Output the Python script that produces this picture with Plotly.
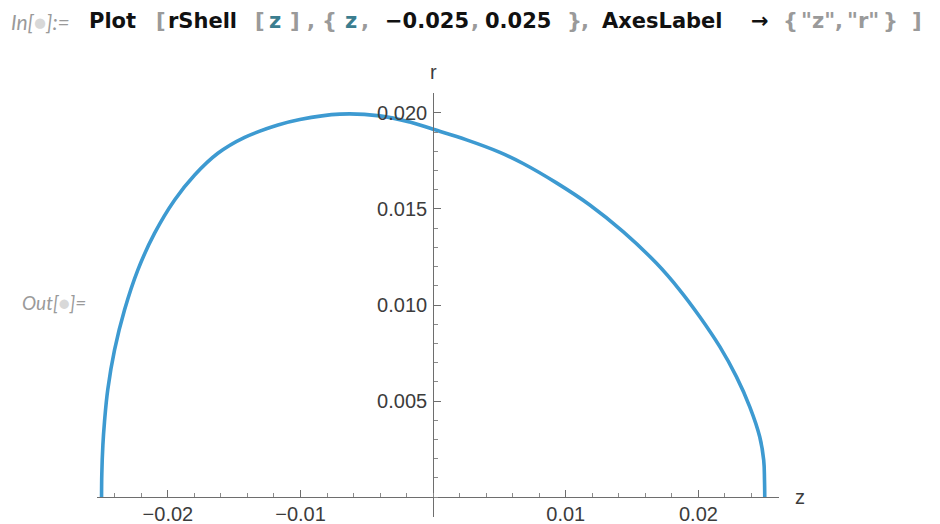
import plotly.graph_objects as go

# ---- data ----
z_vals = [-0.02500, -0.02498, -0.02490, -0.02478, -0.02453, -0.02402, -0.02327,
          -0.02226, -0.02100, -0.01949, -0.01798, -0.01623, -0.01421, -0.01170,
          -0.01005, -0.00703, -0.00402, -0.00176, 0.00000, 0.00252, 0.00503,
          0.00678, 0.00930, 0.01181, 0.01432, 0.01684, 0.01859, 0.02010,
          0.02161, 0.02286, 0.02387, 0.02462, 0.02492, 0.02498, 0.02500]
r_vals = [0.00000, 0.00120, 0.00270, 0.00390, 0.00560, 0.00766, 0.00974,
          0.01183, 0.01374, 0.01547, 0.01677, 0.01790, 0.01873, 0.01937,
          0.01966, 0.01994, 0.01985, 0.01953, 0.01915, 0.01860, 0.01795,
          0.01737, 0.01636, 0.01521, 0.01382, 0.01217, 0.01078, 0.00939,
          0.00783, 0.00627, 0.00470, 0.00314, 0.00193, 0.00090, 0.00000]

x_major = [-0.02, -0.01, 0.01, 0.02]
x_major_text = ["\u22120.02", "\u22120.01", "0.01", "0.02"]
x_minor = [round(-0.024 + 0.002 * i, 4) for i in range(26)]
y_major = [0.005, 0.010, 0.015, 0.020]
y_major_text = ["0.005", "0.010", "0.015", "0.020"]
y_minor = [round(-0.001 + 0.001 * i, 4) for i in range(23)]

# page body adds an 8px offset, so the figure is 8px smaller and everything is
# laid out in screen coordinates
OFF = 8
W, H = 940 - OFF, 524 - OFF
PL, PR, PT, PB = 97, 779, 93, 517          # plot area in screen pixels
L, R, T, B = PL - OFF, 940 - PR, PT - OFF, 524 - PB
pw, ph = PR - PL, PB - PT


def px(x):
    return (x - PL) / pw


def py(y):
    return (PB - y) / ph


xr = [-0.025343, 0.026074]
yr = [-0.00104, 0.02104]
x0_paper = (0 - yr[0]) / (yr[1] - yr[0])
y0_paper = (0 - xr[0]) / (xr[1] - xr[0])

axis_col = "#6e6e6e"
lab_col = "#3c3c3c"
tick_font = dict(family="Liberation Sans, Arial, sans-serif", size=20, color=lab_col)

fig = go.Figure()
fig.add_trace(go.Scatter(x=z_vals, y=r_vals, mode="lines",
                         line=dict(color="#3d9ad1", width=3.6, shape="spline", smoothing=1.1),
                         hoverinfo="skip", showlegend=False))

fig.update_layout(
    width=W, height=H,
    margin=dict(l=L, r=R, t=T, b=B, autoexpand=False),
    paper_bgcolor="white", plot_bgcolor="white",
    xaxis=dict(range=xr, anchor="free", position=x0_paper, showgrid=False, zeroline=False,
               automargin=False,
               showline=True, linecolor=axis_col, linewidth=1,
               tickmode="array", tickvals=x_major, ticktext=x_major_text,
               ticks="inside", ticklen=7, tickcolor=axis_col, tickwidth=1,
               tickfont=tick_font, ticklabelstandoff=-1,
               minor=dict(tickvals=x_minor, ticks="inside", ticklen=4,
                          tickcolor="#8a8a8a", tickwidth=1, showgrid=False)),
    yaxis=dict(range=yr, anchor="free", position=y0_paper, showgrid=False, zeroline=False,
               automargin=False,
               showline=True, linecolor=axis_col, linewidth=1,
               tickmode="array", tickvals=y_major, ticktext=y_major_text,
               ticks="inside", ticklen=7, tickcolor=axis_col, tickwidth=1,
               tickfont=tick_font, ticklabelstandoff=2,
               minor=dict(tickvals=y_minor, ticks="inside", ticklen=4,
                          tickcolor="#8a8a8a", tickwidth=1, showgrid=False)),
)

ann_font = dict(family="Liberation Sans, Arial, sans-serif", size=20, color=lab_col)
fig.add_annotation(xref="paper", yref="paper", x=px(800), y=py(497), text="z",
                   showarrow=False, font=ann_font, xanchor="center", yanchor="middle")
fig.add_annotation(xref="paper", yref="paper", x=px(433), y=py(72), text="r",
                   showarrow=False, font=ann_font, xanchor="center", yanchor="middle")

grey = "#9a9a9a"
teal = "#3b7d8f"
blk = "#111111"
tokens = [("Plot", blk, 88), ("[", grey, 155), ("rShell", blk, 167), ("[", grey, 254),
          ("z", teal, 268), ("]", grey, 289), (",", grey, 306), ("{", grey, 321),
          ("z", teal, 344), (",", grey, 360), ("\u22120.025", blk, 384), (",", grey, 470),
          ("0.025", blk, 484), ("}", grey, 566), (",", grey, 580), ("AxesLabel", blk, 601),
          ("\u2192", blk, 750), ("{", grey, 782), ("\"z\"", grey, 800), (",", grey, 834),
          ("\"r\"", grey, 846), ("}", grey, 882), ("]", grey, 911)]
for txt, col, xpos in tokens:
    fig.add_annotation(xref="paper", yref="paper", x=px(xpos), y=py(8), text="<b>%s</b>" % txt,
                       showarrow=False, xanchor="left", yanchor="top", borderpad=0,
                       font=dict(family="DejaVu Sans, sans-serif", size=21, color=col))

fig.add_annotation(xref="paper", yref="paper", x=px(10), y=py(8),
                   text="<i>In[<span style='color:#d8d8d8'>\u25cf</span>]:=</i>",
                   showarrow=False, xanchor="left", yanchor="top", borderpad=0,
                   font=dict(family="Lato, Open Sans, sans-serif", size=21, color="#9a9a9a"))
fig.add_annotation(xref="paper", yref="paper", x=px(21), y=py(302),
                   text="<i>Out[<span style='color:#d8d8d8'>\u25cf</span>]=</i>",
                   showarrow=False, xanchor="left", yanchor="middle", borderpad=0,
                   font=dict(family="Lato, Open Sans, sans-serif", size=19, color="#9a9a9a"))

fig.write_html("out.html")
